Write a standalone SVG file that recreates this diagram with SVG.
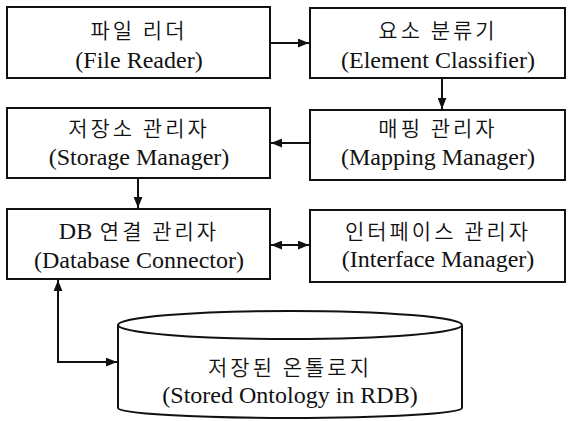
<svg xmlns="http://www.w3.org/2000/svg" width="568" height="421" viewBox="0 0 568 421">
  <style>
    .box { fill: #ffffff; stroke: #111111; stroke-width: 2; }
    .db { fill: #ffffff; stroke: #111111; stroke-width: 2; }
    .ko { font-family: "Noto Sans CJK KR", "DejaVu Sans", sans-serif; font-size: 21px; font-weight: 350; letter-spacing: 3px; fill: #111111; text-anchor: middle; }
    .en { font-family: "Liberation Serif", "Times New Roman", serif; font-size: 24px; fill: #111111; text-anchor: middle; }
    .latin { font-family: "Liberation Serif", "Times New Roman", serif; font-size: 24px; font-weight: normal; letter-spacing: 0; }
    .link { fill: none; stroke: #111111; stroke-width: 2; }
  </style>
  <defs>
    <marker id="arrow" viewBox="0 0 10 8" refX="10" refY="4" markerWidth="11" markerHeight="9" markerUnits="userSpaceOnUse" orient="auto-start-reverse">
      <path d="M0,0 L10,4 L0,8 Z" fill="#111111"/>
    </marker>
  </defs>

  <rect width="568" height="421" fill="#ffffff"/>

  <g id="file-reader">
    <rect class="box" x="7" y="7" width="263" height="71"/>
    <text class="ko" x="139" y="38">파일 리더</text>
    <text class="en" x="139" y="68">(File Reader)</text>
  </g>

  <g id="element-classifier">
    <rect class="box" x="310" y="8" width="255" height="70"/>
    <text class="ko" x="438" y="38">요소 분류기</text>
    <text class="en" x="438" y="68">(Element Classifier)</text>
  </g>

  <g id="storage-manager">
    <rect class="box" x="7" y="108" width="263" height="70"/>
    <text class="ko" x="139" y="136">저장소 관리자</text>
    <text class="en" x="139" y="165">(Storage Manager)</text>
  </g>

  <g id="mapping-manager">
    <rect class="box" x="310" y="110" width="255" height="70"/>
    <text class="ko" x="438" y="136">매핑 관리자</text>
    <text class="en" x="438" y="165">(Mapping Manager)</text>
  </g>

  <g id="database-connector">
    <rect class="box" x="7" y="209" width="263" height="70"/>
    <text class="ko" x="139" y="239"><tspan class="latin">DB</tspan> 연결 관리자</text>
    <text class="en" x="139" y="268">(Database Connector)</text>
  </g>

  <g id="interface-manager">
    <rect class="box" x="310" y="210" width="255" height="72"/>
    <text class="ko" x="438" y="239">인터페이스 관리자</text>
    <text class="en" x="438" y="267">(Interface Manager)</text>
  </g>

  <g id="stored-ontology">
    <path class="db" d="M118,325 L118,408 A172,10 0 0 0 462,408 L462,325"/>
    <ellipse class="db" cx="290" cy="325" rx="172" ry="14"/>
    <text class="ko" x="290" y="375">저장된 온톨로지</text>
    <text class="en" x="290" y="403">(Stored Ontology in RDB)</text>
  </g>

  <g id="connectors">
    <path class="link" d="M270,43 H309" marker-end="url(#arrow)"/>
    <path class="link" d="M442,78 V109" marker-end="url(#arrow)"/>
    <path class="link" d="M310,143 H271" marker-end="url(#arrow)"/>
    <path class="link" d="M138,178 V208" marker-end="url(#arrow)"/>
    <path class="link" d="M271,245 H309" marker-start="url(#arrow)" marker-end="url(#arrow)"/>
    <path class="link" d="M58,280 V362 H117" marker-start="url(#arrow)" marker-end="url(#arrow)"/>
  </g>
</svg>
